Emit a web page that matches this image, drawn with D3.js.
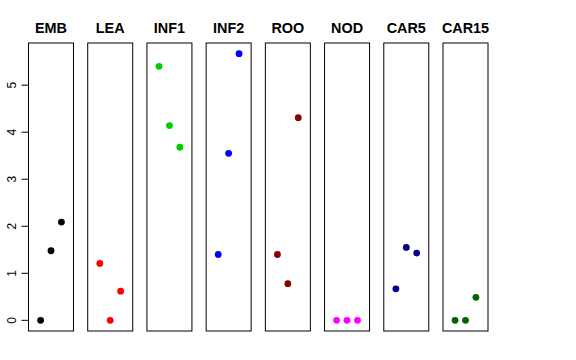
<!DOCTYPE html>
<html>
<head>
<meta charset="utf-8">
<script src="https://cdn.jsdelivr.net/npm/d3@7"></script>
<style>
body { margin: 0; background: #fff; }
svg { display: block; font-family: "Liberation Sans", Arial, sans-serif; }
</style>
</head>
<body>
<script>
var w = 576;
var h = 360;

// tissues and their colours
var tissues = ["EMB", "LEA", "INF1", "INF2", "ROO", "NOD", "CAR5", "CAR15"];
var colors = ["#000000", "#FF0000", "#00CD00", "#0000FF", "#8B0000", "#FF00FF", "#00008B", "#006400"];

// three replicate values per tissue
var rep1 = [0.00, 1.21, 5.40, 1.40, 1.40, 0.00, 0.67, 0.00];
var rep2 = [1.48, 0.00, 4.14, 3.55, 0.78, 0.00, 1.55, 0.00];
var rep3 = [2.09, 0.62, 3.68, 5.67, 4.31, 0.00, 1.43, 0.49];

var yTicks = [0, 1, 2, 3, 4, 5];

// note: "top" is taken by window.top, so use other names
var plotTop = 43, plotBottom = 331;

var svg = d3.select("body").append("svg").attr("width", w).attr("height", h);

var ymax = d3.max(rep1.concat(rep2, rep3));
var pad = ymax * 0.04;
var y = d3.scaleLinear().domain([-pad, ymax + pad]).range([plotBottom, plotTop]);

var x = d3.scaleBand().domain(tissues).range([28.5, 488]).paddingInner(0.24).paddingOuter(0);

var xin = d3.scaleLinear().domain([-0.16, 4.16]).range([0, x.bandwidth()]);

var panels = svg.selectAll("g.panel")
.data(tissues)
.enter()
.append("g")
.attr("class", "panel")
.attr("transform", function(d){ return "translate(" + x(d) + ",0)"; });

panels.append("rect")
.attr("x", 0)
.attr("y", plotTop)
.attr("width", x.bandwidth())
.attr("height", plotBottom - plotTop)
.attr("fill", "none")
.attr("stroke", "#000")
.attr("stroke-width", 1);

panels.append("text")
.attr("x", x.bandwidth() / 2)
.attr("y", 33)
.attr("text-anchor", "middle")
.attr("font-weight", "bold")
.attr("font-size", "14.4px")
.text(function(d){ return d; });

panels.each(function(d, i){
    var pts = [rep1[i], rep2[i], rep3[i]];
    d3.select(this).selectAll("circle")
    .data(pts)
    .enter()
    .append("circle")
    .attr("cx", function(v, j){ return xin(j + 1); })
    .attr("cy", function(v){ return y(v); })
    .attr("r", 3.4)
    .attr("fill", colors[i]);
});

// y axis on the left, R style
var axis = svg.append("g").attr("transform", "translate(28.5,0)");
axis.append("line")
.attr("x1", 0).attr("x2", 0)
.attr("y1", y(0)).attr("y2", y(5))
.attr("stroke", "#000");
axis.selectAll("line.tick")
.data(yTicks)
.enter()
.append("line")
.attr("class", "tick")
.attr("x1", -7).attr("x2", 0)
.attr("y1", function(d){ return y(d); })
.attr("y2", function(d){ return y(d); })
.attr("stroke", "#000");
axis.selectAll("text")
.data(yTicks)
.enter()
.append("text")
.attr("transform", function(d){ return "translate(-13," + y(d) + ") rotate(-90)"; })
.attr("text-anchor", "middle")
.attr("font-size", "12px")
.text(function(d){ return d; });
</script>
</body>
</html>
